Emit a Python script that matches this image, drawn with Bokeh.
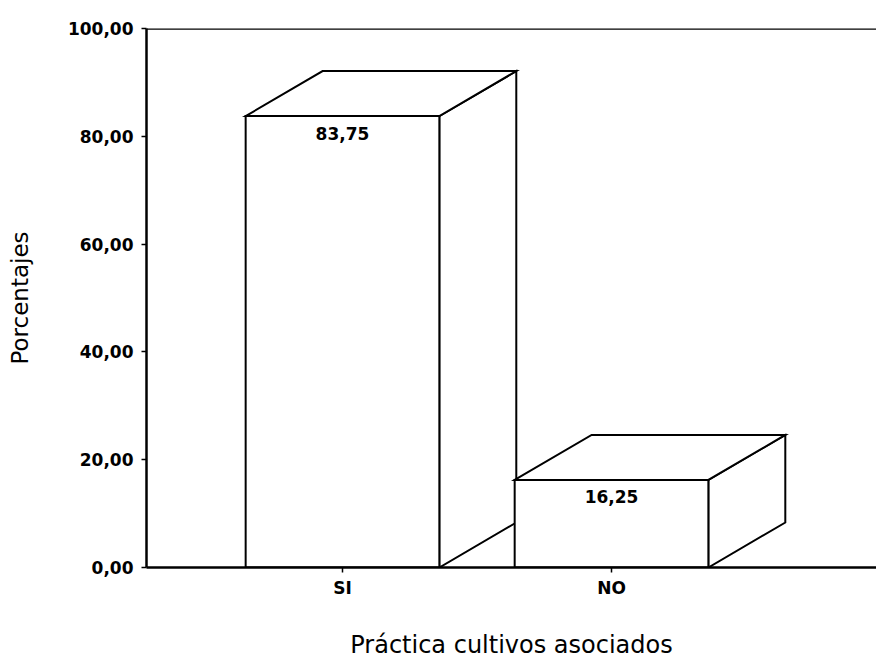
from bokeh.plotting import figure
from bokeh.models import FixedTicker, Span, Range1d
from bokeh.core.properties import value
from bokeh.embed import file_html
from bokeh.resources import INLINE

# Data
categories = ["SI", "NO"]
percentages = [83.75, 16.25]
y_ticks = [0, 20, 40, 60, 80, 100]
y_tick_labels = ["0,00", "20,00", "40,00", "60,00", "80,00", "100,00"]
x_title = "Práctica cultivos asociados"
y_title = "Porcentajes"

# Style constants for the pseudo-3D boxes
BAR_W = 0.72       # front face width in category units
DEPTH_X = 0.286    # depth offset along x (category units)
DEPTH_Y = 8.35     # depth offset along y (percentage units)
FONT = "DejaVu Sans"

positions = [i + 1 for i in range(len(categories))]

p = figure(width=876, height=661, output_backend="svg", toolbar_location=None,
           x_range=Range1d(0.2714, 2.985), y_range=Range1d(0, 100),
           min_border_left=146, min_border_right=0,
           min_border_top=28, min_border_bottom=94)

# Build faces of each box: side, top, then front (drawn back to front)
face_xs, face_ys = [], []
for x, v in zip(positions, percentages):
    xl, xr = x - BAR_W / 2, x + BAR_W / 2
    face_xs.append([xr, xr + DEPTH_X, xr + DEPTH_X, xr])
    face_ys.append([0, DEPTH_Y, v + DEPTH_Y, v])
    face_xs.append([xl, xl + DEPTH_X, xr + DEPTH_X, xr])
    face_ys.append([v, v + DEPTH_Y, v + DEPTH_Y, v])
    face_xs.append([xl, xl, xr, xr])
    face_ys.append([0, v, v, 0])

p.patches(face_xs, face_ys, fill_color="white", line_color="black",
          line_width=2, line_join="miter")

# Value labels just below each box's front top edge
value_labels = [f"{v:.2f}".replace(".", ",") for v in percentages]
p.text(x=positions, y=percentages, text=value_labels, text_align="center",
       text_baseline="middle", y_offset=17, text_color="black",
       text_font=value(FONT), text_font_size="17px", text_font_style="bold")

# Top boundary line of the plot area
p.add_layout(Span(location=100, dimension="width", line_color="black", line_width=2.5))

p.grid.visible = False
p.outline_line_color = None
p.background_fill_color = "white"
p.border_fill_color = "white"

p.xaxis.ticker = FixedTicker(ticks=positions)
p.xaxis.major_label_overrides = {x: c for x, c in zip(positions, categories)}
p.yaxis.ticker = FixedTicker(ticks=y_ticks)
p.yaxis.major_label_overrides = {t: lab for t, lab in zip(y_ticks, y_tick_labels)}

for ax in (p.xaxis[0], p.yaxis[0]):
    ax.axis_line_color = "black"
    ax.axis_line_width = 2.5
    ax.major_tick_in = 0
    ax.major_tick_out = 5
    ax.major_tick_line_color = "black"
    ax.major_tick_line_width = 1.5
    ax.minor_tick_line_color = None
    ax.major_label_text_font = FONT
    ax.major_label_text_font_size = "17px"
    ax.major_label_text_font_style = "bold"
    ax.major_label_text_color = "black"
    ax.axis_label_text_font = FONT
    ax.axis_label_text_font_style = "normal"
    ax.axis_label_text_color = "black"

p.xaxis.axis_label = x_title
p.xaxis.axis_label_text_font_size = "24px"
p.xaxis.major_label_standoff = 5
p.xaxis.axis_label_standoff = 30

p.yaxis.axis_label = y_title
p.yaxis.axis_label_text_font_size = "23px"
p.yaxis.major_label_standoff = 8
p.yaxis.axis_label_standoff = 32

open("out.html", "w").write(file_html(p, INLINE))
